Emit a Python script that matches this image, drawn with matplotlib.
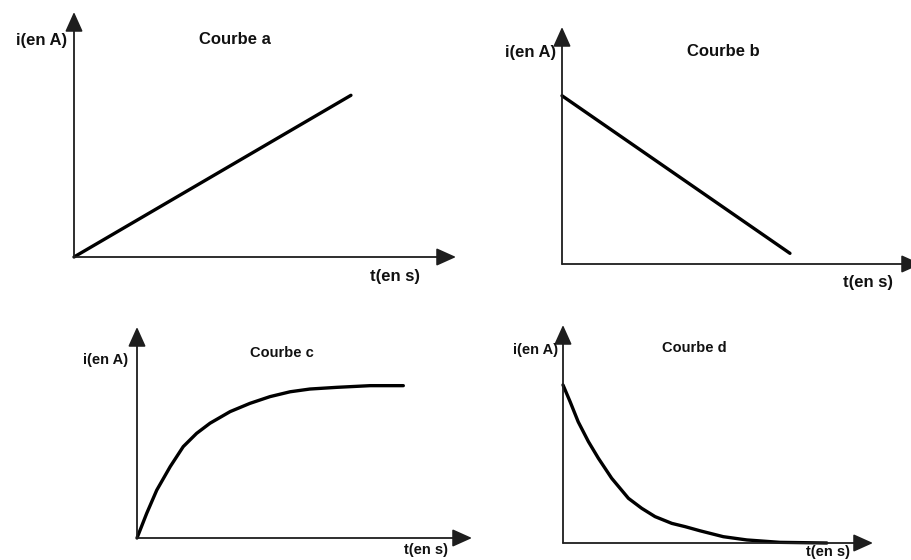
import numpy as np
import matplotlib
matplotlib.use("Agg")
from matplotlib import pyplot as plt

# values (t and i in arbitrary units, axis length = 10)
t_a = [0, 7.25]
i_a = [0, 6.6]

t_b = [0, 6.35]
i_b = [7.1, 0.45]

t_c = [0, 0.29, 0.59, 0.99, 1.38, 1.78, 2.18, 2.78, 3.37, 3.97, 4.57, 5.16, 5.96, 6.96, 7.95]
i_c = [0, 1.17, 2.27, 3.38, 4.33, 4.96, 5.44, 5.99, 6.38, 6.70, 6.93, 7.06, 7.14, 7.22, 7.22]

t_d = [0, 0.23, 0.49, 0.82, 1.14, 1.57, 2.11, 2.54, 2.97, 3.51, 3.94, 4.42, 5.17, 5.93, 7.00, 8.51]
i_d = [7.25, 6.48, 5.56, 4.65, 3.89, 2.97, 2.05, 1.59, 1.21, 0.90, 0.75, 0.56, 0.29, 0.14, 0.03, 0.0]

titles = ["Courbe a", "Courbe b", "Courbe c", "Courbe d"]
ylabel = "i(en A)"
xlabel = "t(en s)"

W, H = 912, 560
plt.rcParams['font.family'] = ['Liberation Sans', 'DejaVu Sans']
fig = plt.figure(figsize=(W / 100, H / 100), dpi=100)


def add_panel(x0, y0, x1, y1):
    # x0,y0 = origin pixel, x1 = tip of t arrow, y1 = tip of i arrow
    ax = fig.add_axes([x0 / W, 1 - y0 / H, (x1 - x0) / W, (y0 - y1) / H])
    ax.set_xlim(0, 10)
    ax.set_ylim(0, 10)
    ax.axis("off")
    style = "-|>,head_length=0.6,head_width=0.27"
    for tip in [(1, 0), (0, 1)]:
        ax.annotate("", xy=tip, xytext=(0, 0), xycoords="axes fraction",
                    arrowprops=dict(arrowstyle=style, color="#1e1e1e", lw=1.3,
                                    mutation_scale=20, shrinkA=0, shrinkB=0),
                    annotation_clip=False)
    return ax


def label(x, y, s, size, ha="center"):
    fig.text(x / W, 1 - y / H, s, ha=ha, va="center", fontsize=size,
             fontweight="bold", color="#111111")


panels = [
    (add_panel(74, 257, 456, 12), t_a, i_a),
    (add_panel(562, 264, 921, 27), t_b, i_b),
    (add_panel(137, 538, 472, 327), t_c, i_c),
    (add_panel(563, 543, 873, 325), t_d, i_d),
]
for ax, t, i in panels:
    ax.plot(t, i, color="black", lw=2.4, clip_on=False,
            solid_capstyle="round", solid_joinstyle="round")

label(67, 40, ylabel, 12, ha="right")
label(235, 40, titles[0], 12)
label(395, 276, xlabel, 12)

label(556, 52, ylabel, 12, ha="right")
label(723, 52, titles[1], 12)
label(868, 282, xlabel, 12)

label(128, 360, ylabel, 10.5, ha="right")
label(282, 353, titles[2], 10.5)
label(426, 550, xlabel, 10.5)

label(558, 350, ylabel, 10.5, ha="right")
label(694, 348, titles[3], 10.5)
label(828, 552, xlabel, 10.5)

fig.savefig("out.png", dpi=100, facecolor="white")
